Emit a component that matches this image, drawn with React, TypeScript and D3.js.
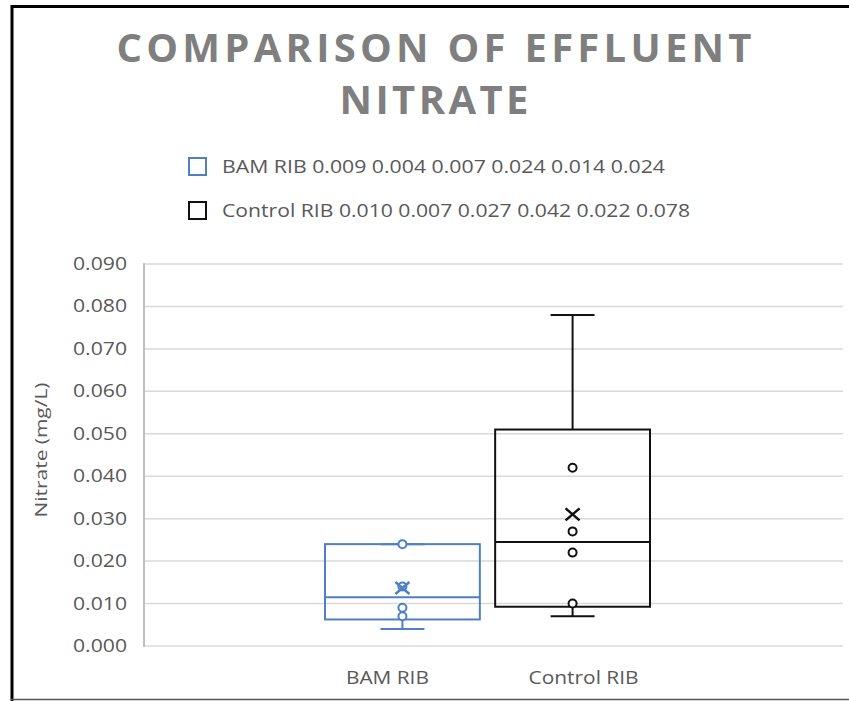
import React from 'react';
import * as d3 from 'd3';

// chart data
const seriesNames = ['BAM RIB', 'Control RIB'];
const bamValues = [0.009, 0.004, 0.007, 0.024, 0.014, 0.024];
const controlValues = [0.010, 0.007, 0.027, 0.042, 0.022, 0.078];
const seriesValues = [bamValues, controlValues];
const seriesColors = ['#4f7fc4', '#111111'];
const yTicks = [0, 0.01, 0.02, 0.03, 0.04, 0.05, 0.06, 0.07, 0.08, 0.09];
const titleLines = ['COMPARISON OF EFFLUENT', 'NITRATE'];

const W = 849;
const H = 701;
const plot = { left: 145, right: 843, top: 264, bottom: 646 };

// Excel style exclusive quartile
function quartileExc(sorted: number[], p: number) {
  const pos = (sorted.length + 1) * p;
  const lo = Math.floor(pos);
  const frac = pos - lo;
  const a = sorted[Math.max(0, Math.min(sorted.length - 1, lo - 1))];
  const b = sorted[Math.max(0, Math.min(sorted.length - 1, lo))];
  return a + frac * (b - a);
}

function boxStats(values: number[]) {
  const s = [...values].sort((a, b) => a - b);
  return {
    min: s[0],
    max: s[s.length - 1],
    q1: quartileExc(s, 0.25),
    median: quartileExc(s, 0.5),
    q3: quartileExc(s, 0.75),
    mean: d3.mean(s) as number,
    inner: s.slice(1, s.length - 1),
  };
}

export default function App() {
  const y = d3.scaleLinear().domain([0, 0.09]).range([plot.bottom, plot.top]);
  const x = d3.scaleBand<string>().domain(seriesNames).range([325, 650]).paddingInner(0.09);
  const bw = x.bandwidth();
  const capHalf = 22;
  const labelDx = [-15, 11];
  const fmt = d3.format('.3f');
  const gray = '#595959';

  return (
    <svg width={W} height={H} style={{ position: 'absolute', left: 0, top: 0, background: '#fff' }}
      fontFamily="'Open Sans', sans-serif">
      {/* frame */}
      <line x1={11} x2={W} y1={6.5} y2={6.5} stroke="#000" strokeWidth={3} />
      <line x1={12} x2={12} y1={5} y2={H} stroke="#000" strokeWidth={3} />
      <line x1={11} x2={W} y1={699.5} y2={699.5} stroke="#555" strokeWidth={1.5} />

      {/* title */}
      <text x={434} y={62} textAnchor="middle" fontSize={40} fontWeight="bold" fill="#7f7f7f"
        textLength={635} lengthAdjust="spacing">{titleLines[0]}</text>
      <text x={434} y={114} textAnchor="middle" fontSize={40} fontWeight="bold" fill="#7f7f7f"
        textLength={189} lengthAdjust="spacing">{titleLines[1]}</text>

      {/* legend */}
      {seriesNames.map((name, i) => (
        <g key={name} transform={`translate(189,${158 + i * 44})`}>
          <rect x={0} y={0} width={17} height={17} fill="#fff" stroke={seriesColors[i]} strokeWidth={2} />
          <text x={33} y={15} fontSize={18} fill={gray}
            textLength={i === 0 ? 443 : 468} lengthAdjust="spacingAndGlyphs">
            {`${name} ${seriesValues[i].map(fmt).join(' ')}`}
          </text>
        </g>
      ))}

      {/* gridlines */}
      {yTicks.map(t => (
        <line key={t} x1={plot.left} x2={plot.right} y1={y(t)} y2={y(t)} stroke="#d9d9d9" strokeWidth={1.5} />
      ))}
      <line x1={plot.left - 1} x2={plot.left - 1} y1={plot.top - 1} y2={plot.bottom + 1} stroke="#bfbfbf" strokeWidth={2} />

      {/* y ticks */}
      {yTicks.map(t => (
        <text key={t} x={127} y={y(t) + 6} textAnchor="end" fontSize={18} fill={gray}
          textLength={54} lengthAdjust="spacingAndGlyphs">{fmt(t)}</text>
      ))}
      <text transform={`translate(47,450) rotate(-90)`} textAnchor="middle" fontSize={16} fill={gray}
        textLength={135} lengthAdjust="spacingAndGlyphs">Nitrate (mg/L)</text>

      {/* boxes */}
      {seriesNames.map((name, i) => {
        const st = boxStats(seriesValues[i]);
        const x0 = x(name) as number;
        const cx = x0 + bw / 2;
        const c = seriesColors[i];
        return (
          <g key={name} stroke={c} fill="none" strokeWidth={2}>
            <line x1={cx} x2={cx} y1={y(st.q3)} y2={y(st.max)} />
            <line x1={cx} x2={cx} y1={y(st.q1)} y2={y(st.min)} />
            <line x1={cx - capHalf} x2={cx + capHalf} y1={y(st.max)} y2={y(st.max)} />
            <line x1={cx - capHalf} x2={cx + capHalf} y1={y(st.min)} y2={y(st.min)} />
            <rect x={x0} y={y(st.q3)} width={bw} height={y(st.q1) - y(st.q3)} />
            <line x1={x0} x2={x0 + bw} y1={y(st.median)} y2={y(st.median)} />
            {st.inner.map((v, j) => (
              <circle key={j} cx={cx} cy={y(v)} r={4} fill="#fff" />
            ))}
            <path d={`M${cx - 7},${y(st.mean) - 6}L${cx + 7},${y(st.mean) + 6}M${cx + 7},${y(st.mean) - 6}L${cx - 7},${y(st.mean) + 6}`}
              strokeWidth={2.5} />
            <text x={cx + labelDx[i]} y={684} textAnchor="middle" fontSize={18} fill={gray} stroke="none"
              textLength={i === 0 ? 83 : 110} lengthAdjust="spacingAndGlyphs">{name}</text>
          </g>
        );
      })}
    </svg>
  );
}
